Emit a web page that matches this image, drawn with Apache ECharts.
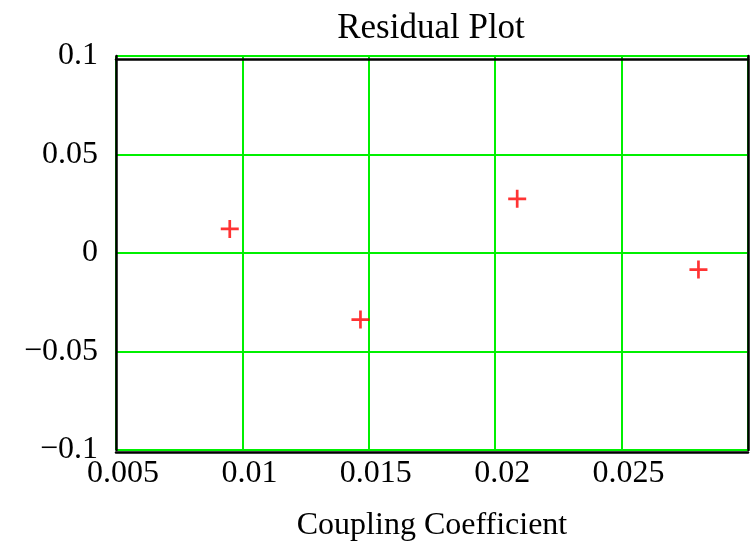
<!DOCTYPE html>
<html><head><meta charset="utf-8">
<script src="https://cdn.jsdelivr.net/npm/echarts@6/dist/echarts.min.js"></script>
<style>html,body{margin:0;padding:0;background:#fff}#c{width:753px;height:547px}</style>
</head><body><div id="c"></div>
<script>
const couplingCoefficient = [0.0095, 0.01467, 0.02087, 0.02804];
const residuals = [0.0122, -0.0338, 0.0275, -0.0084];
const xTicks = [0.005, 0.01, 0.015, 0.02, 0.025];
const yTicks = [-0.1, -0.05, 0, 0.05, 0.1];

const font = '"Liberation Serif", "Times New Roman", serif';
const fmt = v => String(v).replace('-', '\u2212');
const plus = 'path://M-1.2,-8 L1.2,-8 L1.2,-1.2 L8,-1.2 L8,1.2 L1.2,1.2 L1.2,8 L-1.2,8 L-1.2,1.2 L-8,1.2 L-8,-1.2 L-1.2,-1.2 Z';

const chart = echarts.init(document.getElementById('c'), null, {renderer: 'canvas'});
chart.setOption({
  backgroundColor: '#fff',
  animation: false,
  title: {
    text: 'Residual Plot', left: 426, top: 6, textAlign: 'center',
    textStyle: {fontFamily: font, fontSize: 35, fontWeight: 'normal', color: '#000'}
  },
  grid: {left: 116, right: 5, top: 56, bottom: 96, containLabel: false},
  xAxis: [{
    type: 'value', min: 0.005, max: 0.03, interval: 0.005, offset: 2,
    name: 'Coupling Coefficient', nameLocation: 'middle', nameGap: 58,
    nameTextStyle: {fontFamily: font, fontSize: 32, color: '#000'},
    axisLine: {show: true, onZero: false, lineStyle: {color: '#000', width: 2.5}},
    axisTick: {show: false},
    axisLabel: {
      fontFamily: font, fontSize: 32, color: '#000', margin: 6,
      formatter: v => xTicks.some(t => Math.abs(t - v) < 1e-9) ? fmt(v) : '',
      padding: [0, 0, 0, 14]
    },
    splitLine: {show: true, lineStyle: {color: '#00f000', width: 2}}
  }, {
    type: 'value', position: 'top', min: 0.005, max: 0.03, offset: -3,
    axisLine: {show: true, onZero: false, lineStyle: {color: '#000', width: 2.5}},
    axisTick: {show: false}, axisLabel: {show: false}, splitLine: {show: false}
  }],
  yAxis: [{
    type: 'value', min: -0.1, max: 0.1, interval: 0.05,
    axisLine: {show: true, onZero: false, lineStyle: {color: '#000', width: 2.5}},
    axisTick: {show: false},
    axisLabel: {
      fontFamily: font, fontSize: 32, color: '#000', margin: 18,
      padding: [8, 0, 0, 0],
      formatter: v => yTicks.some(t => Math.abs(t - v) < 1e-9) ? fmt(v) : ''
    },
    splitLine: {show: true, lineStyle: {color: '#00f000', width: 2}}
  }, {
    type: 'value', position: 'right', min: -0.1, max: 0.1,
    axisLine: {show: true, onZero: false, lineStyle: {color: '#000', width: 2.5}},
    axisTick: {show: false}, axisLabel: {show: false}, splitLine: {show: false}
  }],
  series: [{
    type: 'scatter',
    data: couplingCoefficient.map((x, i) => [x, residuals[i]]),
    symbol: plus, symbolSize: 18,
    itemStyle: {color: '#ff0000'}
  }]
});
</script></body></html>
